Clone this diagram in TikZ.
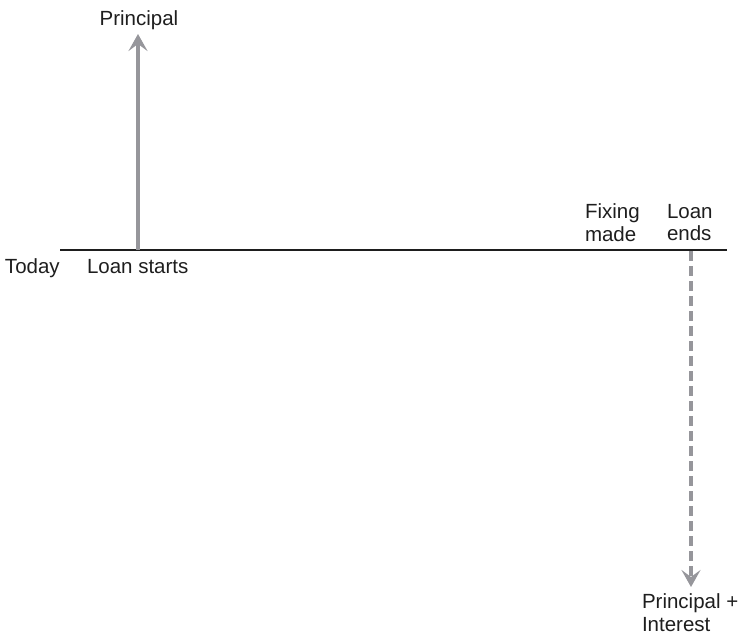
\documentclass[tikz,border=0pt]{standalone}
\usepackage{fontspec}
\setmainfont{Liberation Sans}
\usetikzlibrary{arrows.meta}
\definecolor{flowgray}{RGB}{150,150,155}
\definecolor{axisink}{RGB}{30,30,30}
\begin{document}
\begin{tikzpicture}[x=1pt,y=-1pt,
  lbl/.style={inner sep=0pt,outer sep=0pt,text=axisink,font=\fontsize{20.5}{22.5}\selectfont,align=left},
  axis/.style={draw=axisink,line width=1.5pt},
  cashflow/.style={draw=flowgray,line width=3.4pt,
    -{Stealth[length=17pt,width=19pt,inset=7pt]}},
  dashflow/.style={cashflow,dash pattern=on 10pt off 5pt}]
\useasboundingbox (0,0) rectangle (745,641);

% time axis
\coordinate (axisL) at (60,250);
\coordinate (axisR) at (727,250);
\draw[axis] (axisL) -- (axisR);

% labels along the axis
\node[lbl,anchor=base west] (today) at (5,273) {Today};
\node[lbl,anchor=base west] (loanstart) at (87,273) {Loan starts};
\node[lbl,anchor=north west] (fixing) at (585,204) {Fixing\\made};
\node[lbl,anchor=north west] (loanend) at (667,204) {Loan\\ends};

% cash flows
\node[lbl,anchor=base] (principal) at (139,25) {Principal};
\node[lbl,anchor=north west] (repay) at (642,594) {Principal +\\Interest};

\coordinate (outStart) at (138,250);
\coordinate (outTip) at (138,34);
\coordinate (inStart) at (691,251);
\coordinate (inTip) at (691,587);
\draw[cashflow] (outStart) -- (outTip);
\draw[dashflow] (inStart) -- (inTip);
\end{tikzpicture}
\end{document}
